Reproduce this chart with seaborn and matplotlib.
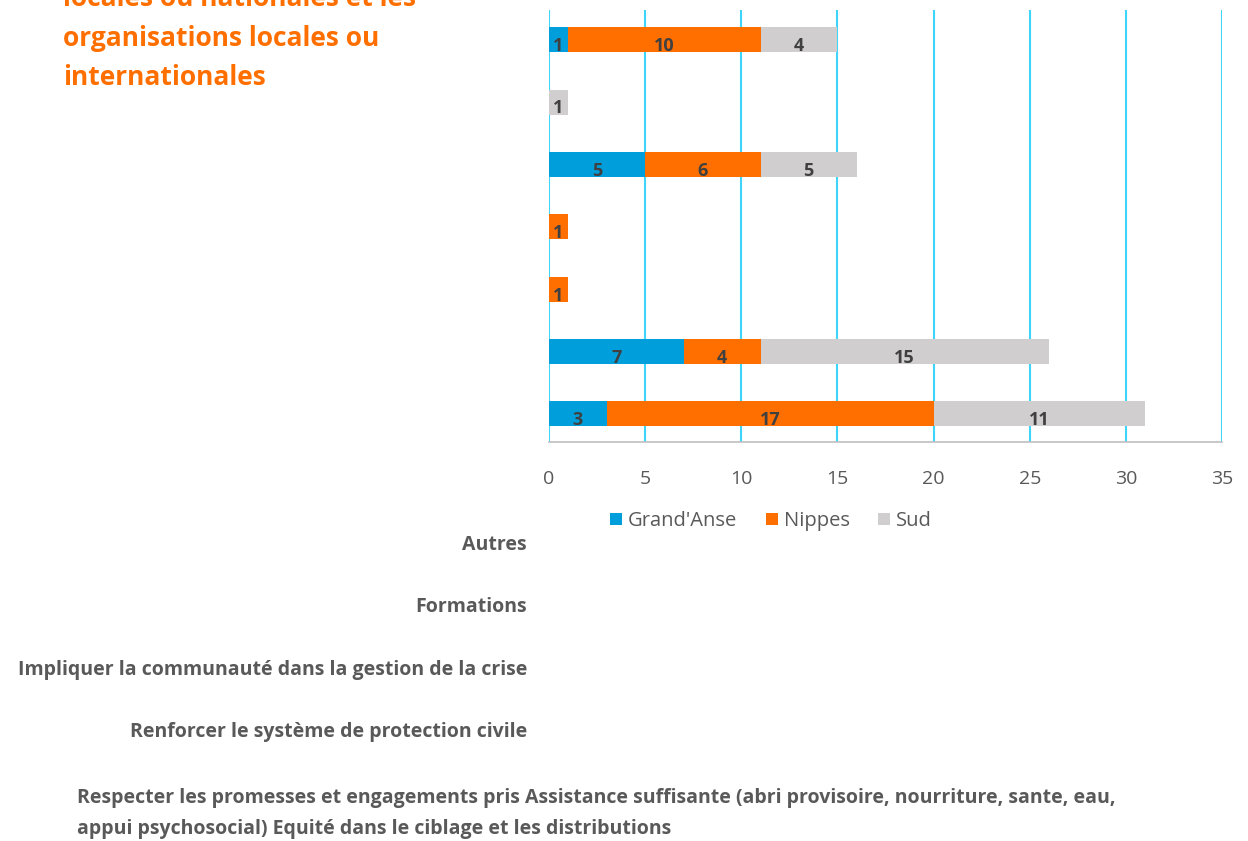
import matplotlib
matplotlib.use("Agg")
import matplotlib.pyplot as plt
import matplotlib.transforms as mtransforms
from matplotlib.patches import Patch
import numpy as np
import pandas as pd
import seaborn as sns

# Responses per department, one entry per recommendation (top to bottom)
bar_ids = ["r1", "r2", "r3", "r4", "r5", "r6", "r7"]
grand_anse = [1, 0, 5, 0, 0, 7, 3]
nippes = [10, 0, 6, 1, 1, 4, 17]
sud = [4, 1, 5, 0, 0, 15, 11]

series_names = ["Grand'Anse", "Nippes", "Sud"]
series_colors = ["#009FDB", "#FF6F00", "#D0CECE"]

category_labels = [
    "Autres",
    "Formations",
    "Impliquer la communauté dans la gestion de la crise",
    "Renforcer le système de protection civile",
    "Respecter les promesses et engagements pris Assistance suffisante (abri provisoire, nourriture, sante, eau,\n"
    "appui psychosocial) Equité dans le ciblage et les distributions",
]

title_lines = "locales ou nationales et les\norganisations locales ou\ninternationales"
x_ticks = [0, 5, 10, 15, 20, 25, 30, 35]

sns.set_theme(style="white")
plt.rcParams["font.family"] = ["Open Sans", "DejaVu Sans"]

df = pd.DataFrame({"id": bar_ids, "Grand'Anse": grand_anse, "Nippes": nippes, "Sud": sud})
vals = df[series_names].to_numpy(dtype=float)
cum = np.cumsum(vals, axis=1)

fig = plt.figure(figsize=(12.48, 8.41), dpi=100)
ax = fig.add_axes([549 / 1248, 1 - 442 / 841, (1222 - 549) / 1248, (442 - 10) / 841])

# Stacked bars: draw running totals from the largest down so each segment shows
for k in range(len(series_names) - 1, -1, -1):
    sns.barplot(x=cum[:, k], y=df["id"], order=bar_ids, orient="h",
                color=series_colors[k], width=0.4, saturation=1, linewidth=0,
                edgecolor="none", ax=ax, zorder=3)

# Segment value labels
for i in range(len(bar_ids)):
    for k in range(len(series_names)):
        v = vals[i, k]
        if v > 0:
            ax.text(cum[i, k] - v / 2, i + 0.1, f"{int(v)}", ha="center", va="center",
                    fontsize=13, fontweight="bold", color="#404040", zorder=5)

ax.set_xlim(0, 35)
ax.set_ylim(6.45, -0.48)
ax.set_xticks(x_ticks)
ax.set_xticklabels([str(t) for t in x_ticks], fontsize=14, color="#595959")
ax.tick_params(axis="x", length=0, pad=20)
ax.set_yticks([])
ax.set_xlabel("")
ax.set_ylabel("")
for t in x_ticks:
    ax.axvline(t, color="#3FD4FA", lw=1.5, zorder=1)
for s in ["top", "right", "left"]:
    ax.spines[s].set_visible(False)
ax.spines["bottom"].set_color("#BFBFBF")
ax.spines["bottom"].set_linewidth(1.2)
ax.spines["bottom"].set_zorder(4)

# Category labels sit far below their bars
shift = mtransforms.ScaledTranslation(0, -505 / 100, fig.dpi_scale_trans)
trans = mtransforms.blended_transform_factory(fig.transFigure, ax.transData) + shift
for i, lab in enumerate(category_labels):
    if "\n" in lab:
        ax.text(77 / 1248, i, lab, transform=trans + mtransforms.ScaledTranslation(0, -19 / 100, fig.dpi_scale_trans),
                ha="left", va="center", multialignment="left", linespacing=1.75,
                fontsize=14, fontweight="bold", color="#595959", clip_on=False)
    else:
        ax.text(527 / 1248, i, lab, transform=trans, ha="right", va="center",
                fontsize=14, fontweight="bold", color="#595959", clip_on=False)

handles = [Patch(facecolor=c, edgecolor="none") for c in series_colors]
fig.legend(handles, series_names, loc="center", bbox_to_anchor=(771 / 1248, 1 - 521 / 841),
           ncol=3, frameon=False, fontsize=14.5, handlelength=0.6, handleheight=0.6,
           handletextpad=0.3, columnspacing=1.4, labelcolor="#595959")

fig.text(63 / 1248, 1 - 38 / 841, title_lines, ha="left", va="center", fontsize=19,
         fontweight="bold", color="#FF6F00", linespacing=1.6)

fig.savefig("out.png", dpi=100)
